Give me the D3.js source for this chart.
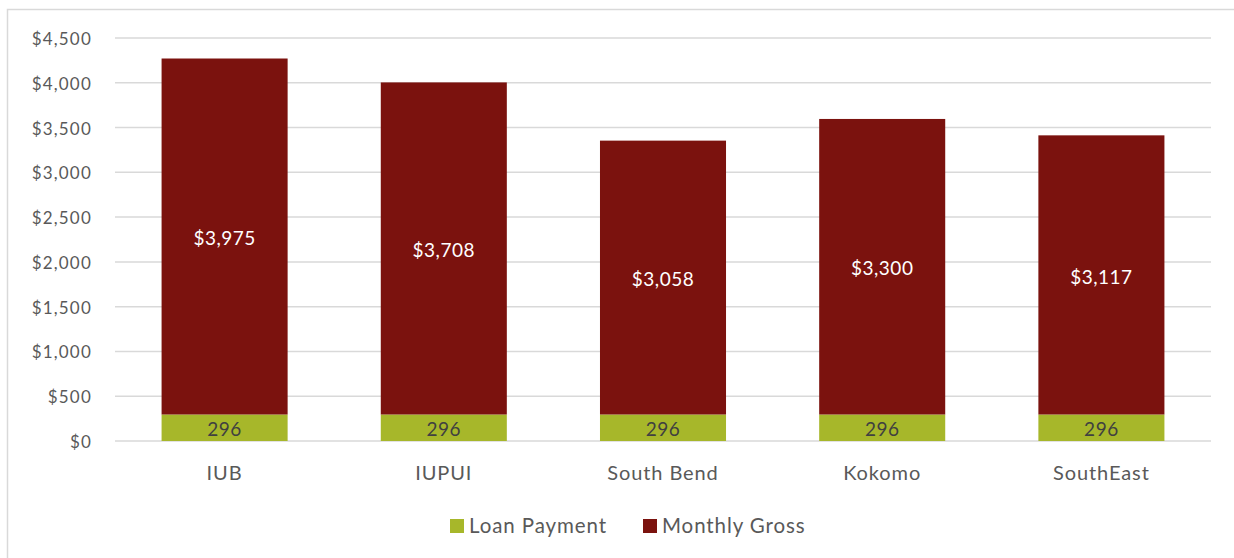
<!DOCTYPE html>
<html><head><meta charset="utf-8">
<script src="https://cdn.jsdelivr.net/npm/d3@7"></script>
<style>body{margin:0;background:#fff}svg{display:block}text{font-family:Lato,"Open Sans",sans-serif}</style>
</head><body>
<svg id="c" width="1234" height="558"></svg>
<script>
const categories = ["IUB","IUPUI","South Bend","Kokomo","SouthEast"];
const loanPayment = [296,296,296,296,296];
const monthlyGross = [3975,3708,3058,3300,3117];
const yTicks = [0,500,1000,1500,2000,2500,3000,3500,4000,4500];
const seriesNames = ["Loan Payment","Monthly Gross"];
const colors = ["#A7B72A","#7B120E"];

const svg = d3.select("#c");
svg.append("rect").attr("x",7.5).attr("y",9.5).attr("width",1240).attr("height",560)
  .attr("fill","#fff").attr("stroke","#D9D9D9").attr("stroke-width",1.5);

const x = d3.scaleBand().domain(categories).range([115,1211]).paddingInner(0.425).paddingOuter(0.2125);
const y = d3.scaleLinear().domain([0,4500]).range([441,38]);

const fmt = d3.format("$,");
svg.append("g").selectAll("line").data(yTicks).join("line")
  .attr("x1",115).attr("x2",1211).attr("y1",d=>y(d)).attr("y2",d=>y(d))
  .attr("stroke","#D9D9D9").attr("stroke-width",1.5);
svg.append("g").selectAll("text").data(yTicks).join("text")
  .attr("x",92).attr("y",d=>y(d)+1).attr("dy","0.35em").attr("text-anchor","end")
  .attr("fill","#595959").attr("font-size",17).attr("letter-spacing",1.2).text(d=>fmt(d));

const data = categories.map((c,i)=>({cat:c, "Loan Payment":loanPayment[i], "Monthly Gross":monthlyGross[i]}));
const stack = d3.stack().keys(seriesNames)(data);

const g = svg.append("g");
stack.forEach((s,si)=>{
  g.selectAll(null).data(s).join("rect")
    .attr("x",d=>x(d.data.cat)).attr("width",x.bandwidth())
    .attr("y",d=>y(d[1])).attr("height",d=>y(d[0])-y(d[1]))
    .attr("fill",colors[si]);
  g.selectAll(null).data(s).join("text")
    .attr("x",d=>x(d.data.cat)+x.bandwidth()/2)
    .attr("y",d=>(y(d[0])+y(d[1]))/2+2).attr("dy","0.35em")
    .attr("text-anchor","middle").attr("font-size",19).attr("letter-spacing",0.5)
    .attr("fill",si===0?"#404040":"#fff")
    .text(d=>si===0?d3.format(",")(d[1]-d[0]):fmt(d[1]-d[0]));
});

svg.append("g").selectAll("text").data(categories).join("text")
  .attr("x",d=>x(d)+x.bandwidth()/2).attr("y",473).attr("dy","0.35em")
  .attr("text-anchor","middle").attr("fill","#595959").attr("font-size",20).attr("letter-spacing",0.9).text(d=>d);

const leg = svg.append("g");
const legX = [450,643];
seriesNames.forEach((n,i)=>{
  leg.append("rect").attr("x",legX[i]).attr("y",519).attr("width",14).attr("height",14).attr("fill",colors[i]);
  leg.append("text").attr("x",legX[i]+19).attr("y",526).attr("dy","0.35em")
    .attr("fill","#595959").attr("font-size",20.5).attr("letter-spacing",0.9).text(n);
});
</script>
</body></html>
